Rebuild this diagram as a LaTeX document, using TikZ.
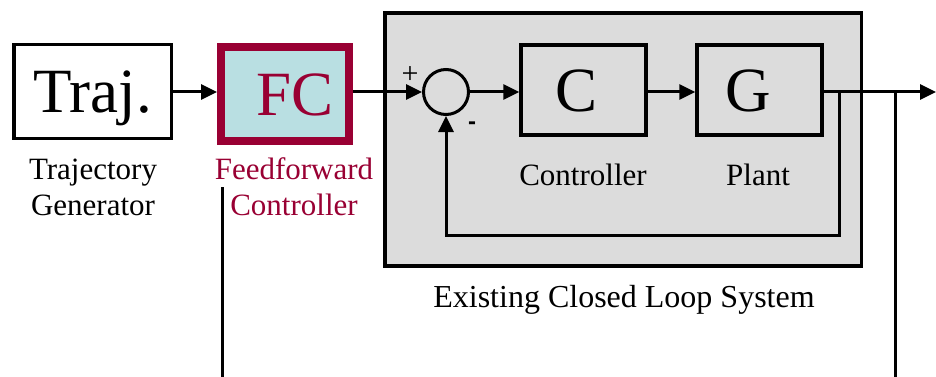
\documentclass[tikz,border=0pt]{standalone}
\usepackage{fontspec}
\setmainfont{Liberation Serif}
\newfontfamily\signfont{Liberation Sans}
\usetikzlibrary{arrows.meta,calc}

\definecolor{ffred}{RGB}{153,0,51}
\definecolor{ffcyan}{RGB}{185,223,226}
\definecolor{loopgray}{RGB}{220,220,220}

\tikzset{
  bigtext/.style={font=\fontsize{63}{63}\selectfont, text height=43pt, text depth=0pt},
  blockbox/.style={draw=black, line width=3.5pt, inner sep=0pt, bigtext},
  caption/.style={font=\fontsize{31}{31}\selectfont, anchor=base},
  conn/.style={draw=black, line width=3pt},
  arr/.style={conn, -{Triangle[length=16pt,width=15pt]}},
}

\begin{document}
\begin{tikzpicture}[x=1pt,y=-1pt]
  \useasboundingbox (0,0) rectangle (936,377);

  % existing closed loop system (grey frame)
  \node[draw=black, fill=loopgray, line width=3.5pt, inner sep=0pt,
        minimum width=476.5pt, minimum height=252.5pt] (loop) at (623,139.5) {};

  % trajectory generator
  \node[blockbox, fill=white, minimum width=157.5pt, minimum height=93.5pt] (traj) at (92.5,91.5) {Traj.};
  \node[caption] (trajl1) at (93,179) {Trajectory};
  \node[caption] (trajl2) at (93,215) {Generator};

  % feedforward controller
  \node[draw=ffred, fill=ffcyan, line width=8pt, inner sep=0pt, bigtext, text=ffred,
        minimum width=128pt, minimum height=94pt] (fc) at (285,94) {\hspace*{20pt}FC};
  \node[caption, text=ffred] (fcl1) at (294,179) {Feedforward};
  \node[caption, text=ffred] (fcl2) at (294,215) {Controller};

  % summing junction
  \node[circle, draw=black, line width=3pt, minimum size=45pt, inner sep=0pt] (sum) at (446,92) {};
  \node[font=\fontsize{30}{30}\selectfont, inner sep=0pt] (plus) at (410,75) {+};
  \node[font=\signfont\bfseries\fontsize{24}{24}\selectfont, inner sep=0pt] (minus) at (472,126) {-};

  % controller and plant
  \node[blockbox, minimum width=125pt, minimum height=90pt] (C) at (583.5,90) {C\hspace*{13pt}};
  \node[caption] (Cl) at (583,185) {Controller};
  \node[blockbox, minimum width=125pt, minimum height=90pt] (G) at (759.5,90) {G\hspace*{23pt}};
  \node[caption] (Gl) at (758,185) {Plant};

  \node[caption, font=\fontsize{32}{32}\selectfont] (loopl) at (624,307) {Existing Closed Loop System};

  % connection points
  \coordinate (out) at (936,92);
  \coordinate (tap) at (839,92);
  \coordinate (fb) at (839,235);
  \coordinate (tap2) at (895,92);
  \coordinate (tap2end) at (895,377);
  \coordinate (fftop) at (222,187);
  \coordinate (ffend) at (222,377);

  % signal lines
  \draw[arr] (traj.east |- sum) -- (fc.west |- sum);
  \draw[arr] (fc.east |- sum) -- (sum.west);
  \draw[arr] (sum.east) -- (C.west |- sum);
  \draw[arr] (C.east |- sum) -- (G.west |- sum);
  \draw[arr] (G.east |- sum) -- (out);
  \draw[arr] (tap) -- (fb) -| (sum.south);
  \draw[conn] (tap2) -- (tap2end);
  \draw[conn] (fftop) -- (ffend);
\end{tikzpicture}
\end{document}
